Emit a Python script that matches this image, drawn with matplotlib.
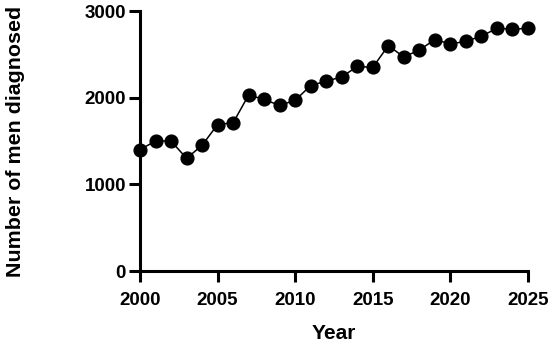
import matplotlib
matplotlib.use("Agg")
import matplotlib.pyplot as plt

years = list(range(2000, 2026))
men_diagnosed = [1400, 1500, 1500, 1300, 1450, 1690, 1710, 2030, 1980, 1910,
                 1970, 2140, 2190, 2240, 2360, 2350, 2600, 2470, 2550, 2670,
                 2620, 2650, 2710, 2800, 2790, 2800]
x_ticks = [2000, 2005, 2010, 2015, 2020, 2025]
y_ticks = [0, 1000, 2000, 3000]

plt.rcParams["font.family"] = ["Liberation Sans", "DejaVu Sans"]
plt.rcParams["font.weight"] = "bold"

fig = plt.figure(figsize=(5.52, 3.44), dpi=100)
ax = fig.add_axes([0.2536, 0.2122, 0.7029, 0.7558])

ax.plot(years, men_diagnosed, color="black", linewidth=1.1, marker="o",
        markersize=9.2, clip_on=False, zorder=3)

ax.set_xlim(2000, 2025)
ax.set_ylim(0, 3000)
ax.set_xticks(x_ticks)
ax.set_yticks(y_ticks)

for side in ["top", "right"]:
    ax.spines[side].set_visible(False)
for side in ["left", "bottom"]:
    ax.spines[side].set_linewidth(2.2)

ax.tick_params(width=2.2, length=8, labelsize=13.5)
ax.tick_params(axis="x", pad=7)
ax.tick_params(axis="y", pad=2)
for lbl in ax.get_xticklabels() + ax.get_yticklabels():
    lbl.set_fontweight("bold")

ax.set_xlabel("Year", fontsize=15, fontweight="bold", labelpad=11)
ax.set_ylabel("Number of men diagnosed", fontsize=15.4, fontweight="bold", labelpad=43)

fig.savefig("out.png", dpi=100)
